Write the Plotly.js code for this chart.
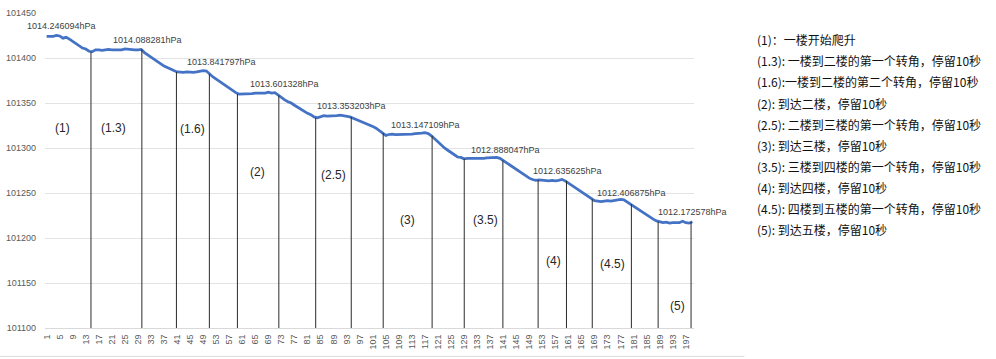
<!DOCTYPE html>
<html>
<head>
<meta charset="utf-8">
<script src="https://cdn.plot.ly/plotly-3.0.1.min.js"></script>
<style>html,body{margin:0;padding:0;background:#fff;}#chart{width:996px;height:359px;}</style>
</head>
<body>
<div id="chart"></div>
<script>
// Pressure readings (Pa), samples 1..199
const pressure = [
101424,101424,101424,101425,101424.5,101422,101423,101421,101418.5,101415,
101413,101411,101410,101407.5,101407,101409,101409,101408.5,101409,101409.5,
101409,101409,101408.5,101409,101410,101409.5,101409,101409,101409,101409.5,
101406,101403.5,101400.5,101397.5,101395,101393,101391,101389.5,101387.5,101386,
101384.5,101384,101384,101384.5,101384,101384,101384.5,101385.5,101386,101385.5,
101382,101379,101376.5,101374,101371,101368.5,101366,101364,101361.5,101360,
101360,101360.5,101360,101360.5,101361,101361,101360.5,101361,101362,101361,
101361.5,101358.5,101356,101353.5,101351.5,101350,101347.5,101345,101342.5,101340.5,
101338.5,101337,101334.5,101333.5,101335,101336,101335.5,101335.5,101336,101336,
101336.5,101336,101335.5,101334.5,101333,101331.5,101330,101328.5,101327,101326,
101324,101322,101319.5,101316.5,101314,101315,101315.5,101315,101315,101315.5,
101315.5,101315,101315.5,101316,101316,101316.5,101317,101316,101313.5,101310,
101306.5,101303,101300,101297.5,101295,101292.5,101290,101289.5,101288,101288.5,
101288.5,101288,101288.5,101288.5,101288.5,101289,101289,101289,101289.5,101288.5,
101286,101283,101280.5,101278,101275.5,101273,101270.5,101268.5,101266.5,101265,
101264,101264.5,101264,101263.5,101263.5,101264,101263.5,101264,101265,101263.5,
101261,101258.5,101256,101253.5,101251,101248.5,101245.5,101243,101241.5,101241,
101240.5,101241,101241.5,101241,101241.5,101242,101243,101242.5,101240,101237.5,
101235,101232.5,101230.5,101228,101225.5,101223,101221,101219,101218,101217,
101217.5,101216.5,101217,101217,101217,101218.5,101217,101216.5,101218
];
const samples = pressure.map((_, i) => i + 1);
const xTickVals = samples.filter(s => (s - 1) % 4 === 0);
const yTickVals = [101100,101150,101200,101250,101300,101350,101400,101450];

// Stage boundary sample positions (vertical markers)
const stageBounds = [14.6,30.2,40.8,50.9,59.5,72.2,83.5,94.4,104.2,119.2,129.05,140.9,151.7,160.4,168.3,180.3,188.5,198.6];

// Stage names and where they are written
const stageNames = ['(1)','(1.3)','(1.6)','(2)','(2.5)','(3)','(3.5)','(4)','(4.5)','(5)'];
const stageX = [5.8,21.4,45.8,65.6,89.1,111.7,135.6,156.3,174.6,194.5];
const stageY = [101322.6,101322.6,101321,101272.9,101270.3,101219.6,101220.3,101174,101171.4,101124];

// Plateau readings in hPa
const plateauLabels = ['1014.246094hPa','1014.088281hPa','1013.841797hPa','1013.601328hPa','1013.353203hPa','1013.147109hPa','1012.888047hPa','1012.635625hPa','1012.406875hPa','1012.172578hPa'];
const plateauX = [5.6,32.0,54.5,73.8,94.4,117.2,141.7,160.8,180.3,199.0];
const plateauY = [101435.1,101420.3,101395.1,101371.4,101347,101325.1,101297.3,101274,101250,101229];

// Notes on the right
const notes = [
'(1)：一楼开始爬升',
'(1.3): 一楼到二楼的第一个转角，停留10秒',
'(1.6):一楼到二楼的第二个转角，停留10秒',
'(2): 到达二楼，停留10秒',
'(2.5): 二楼到三楼的第一个转角，停留10秒',
'(3): 到达三楼，停留10秒',
'(3.5): 三楼到四楼的第一个转角，停留10秒',
'(4): 到达四楼，停留10秒',
'(4.5): 四楼到五楼的第一个转角，停留10秒',
'(5): 到达五楼，停留10秒'
];

const W = 996, H = 359;
const margin = {l: 45, r: 301.5, t: 13.3, b: 30.7};

const shapes = stageBounds.map(p => ({
  type: 'line', xref: 'x', yref: 'y',
  x0: p, x1: p, y0: 101100, y1: pressure[Math.round(p) - 1],
  line: {color: '#2b2b2b', width: 1}
}));
// chart frame bottom line
shapes.push({type:'line', xref:'paper', yref:'paper',
  x0: -margin.l/(W-margin.l-margin.r), x1: (745-margin.l)/(W-margin.l-margin.r),
  y0: -(356.7-(H-margin.b))/(H-margin.t-margin.b), y1: -(356.7-(H-margin.b))/(H-margin.t-margin.b),
  line:{color:'#d9d9d9', width:1}});

const annotations = [];
stageNames.forEach((t, i) => annotations.push({
  x: stageX[i], y: stageY[i], xref: 'x', yref: 'y', text: t, showarrow: false,
  xanchor: 'center', yanchor: 'middle',
  font: {family: 'Liberation Sans, Arial, sans-serif', size: 12, color: '#262626'}
}));
plateauLabels.forEach((t, i) => annotations.push({
  x: plateauX[i], y: plateauY[i], xref: 'x', yref: 'y', text: t, showarrow: false,
  xanchor: 'center', yanchor: 'middle',
  font: {family: 'Liberation Sans, Arial, sans-serif', size: 9, color: '#404040'}
}));
const plotW = W - margin.l - margin.r, plotH = H - margin.t - margin.b;
notes.forEach((t, i) => {
  const py = 40 + i * 21.1;
  annotations.push({
    xref: 'paper', yref: 'paper',
    x: (756 - margin.l) / plotW, y: (H - margin.b - py) / plotH,
    text: t, showarrow: false, xanchor: 'left', yanchor: 'middle',
    font: {family: 'Noto Sans CJK SC, sans-serif', size: 12, color: '#111111'}
  });
});

const trace = {
  x: samples, y: pressure, type: 'scatter', mode: 'lines',
  line: {color: '#4472C4', width: 2.75, shape: 'linear'},
  hoverinfo: 'skip'
};

const layout = {
  width: W, height: H, margin: margin,
  paper_bgcolor: '#ffffff', plot_bgcolor: '#ffffff',
  showlegend: false,
  xaxis: {
    range: [0.5, 199.5], tickvals: xTickVals, ticktext: xTickVals.map(String),
    tickangle: -90, showgrid: false, zeroline: false,
    showline: true, linecolor: '#d9d9d9', linewidth: 1,
    ticks: '', ticklabelstandoff: 2,
    tickfont: {family: 'Liberation Sans, Arial, sans-serif', size: 9, color: '#595959'}
  },
  yaxis: {
    range: [101100, 101450], tickvals: yTickVals, ticktext: yTickVals.map(String),
    showgrid: true, gridcolor: '#e3e3e3', gridwidth: 1, zeroline: false,
    showline: false, ticks: '', ticklabelstandoff: 8,
    tickfont: {family: 'Liberation Sans, Arial, sans-serif', size: 9, color: '#595959'}
  },
  shapes: shapes,
  annotations: annotations
};

Plotly.newPlot('chart', [trace], layout, {staticPlot: true, displayModeBar: false});
</script>
</body>
</html>
